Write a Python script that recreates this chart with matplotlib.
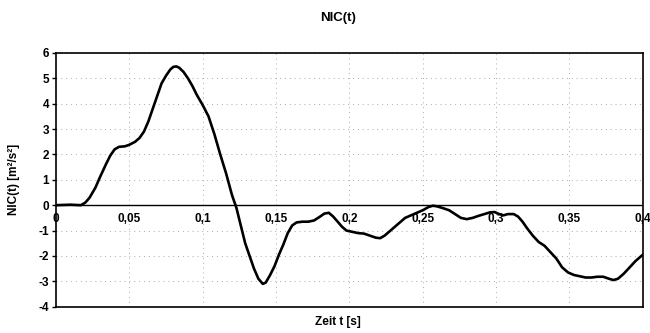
import matplotlib.pyplot as plt
import numpy as np

# NIC(t) curve
t_s = [0, 0.01, 0.017, 0.02, 0.023, 0.027, 0.030, 0.034, 0.037, 0.040, 0.043, 0.047,
       0.050, 0.054, 0.057, 0.060, 0.063, 0.066, 0.069, 0.072, 0.075, 0.078, 0.080,
       0.082, 0.084, 0.087, 0.090, 0.093, 0.096, 0.100, 0.104, 0.108, 0.112, 0.116,
       0.120, 0.123, 0.126, 0.129, 0.132, 0.135, 0.138, 0.141, 0.143, 0.146, 0.149,
       0.152, 0.155, 0.158, 0.161, 0.164, 0.168, 0.172, 0.176, 0.180, 0.183, 0.186,
       0.189, 0.192, 0.195, 0.198, 0.202, 0.206, 0.210, 0.214, 0.218, 0.221, 0.224,
       0.227, 0.230, 0.234, 0.238, 0.242, 0.246, 0.250, 0.254, 0.257, 0.260, 0.264,
       0.268, 0.272, 0.276, 0.280, 0.284, 0.288, 0.292, 0.296, 0.299, 0.302, 0.305,
       0.308, 0.312, 0.315, 0.318, 0.321, 0.325, 0.329, 0.333, 0.337, 0.341, 0.345,
       0.349, 0.353, 0.357, 0.361, 0.365, 0.369, 0.373, 0.377, 0.380, 0.383, 0.387,
       0.391, 0.395, 0.400]
nic = [0, 0.02, 0.0, 0.1, 0.3, 0.7, 1.1, 1.6, 1.95, 2.2, 2.3, 2.32,
       2.38, 2.5, 2.65, 2.9, 3.3, 3.8, 4.3, 4.8, 5.1, 5.35, 5.45,
       5.47, 5.42, 5.25, 5.0, 4.7, 4.35, 3.95, 3.5, 2.8, 2.0, 1.25,
       0.4, -0.1, -0.8, -1.5, -2.0, -2.5, -2.9, -3.1, -3.05, -2.75, -2.4,
       -1.95, -1.55, -1.1, -0.8, -0.68, -0.65, -0.65, -0.6, -0.45, -0.33, -0.3,
       -0.45, -0.65, -0.85, -1.0, -1.05, -1.1, -1.12, -1.2, -1.28, -1.3, -1.2,
       -1.05, -0.9, -0.7, -0.5, -0.4, -0.3, -0.2, -0.07, -0.02, -0.05, -0.12,
       -0.2, -0.35, -0.5, -0.55, -0.5, -0.42, -0.35, -0.28, -0.27, -0.35, -0.4,
       -0.35, -0.35, -0.45, -0.65, -0.9, -1.2, -1.45, -1.6, -1.85, -2.1, -2.45,
       -2.65, -2.75, -2.8, -2.85, -2.85, -2.82, -2.82, -2.9, -2.95, -2.9, -2.7,
       -2.45, -2.2, -1.95]

x_ticks = [0, 0.05, 0.1, 0.15, 0.2, 0.25, 0.3, 0.35, 0.4]
x_labels = ["0", "0,05", "0,1", "0,15", "0,2", "0,25", "0,3", "0,35", "0,4"]
y_ticks = [-4, -3, -2, -1, 0, 1, 2, 3, 4, 5, 6]

plt.rcParams["font.family"] = ["Liberation Sans", "DejaVu Sans"]
plt.rcParams["font.weight"] = "bold"

fig = plt.figure(figsize=(6.5, 3.33), dpi=100)
ax = fig.add_axes([0.086, 0.079, 0.903, 0.762])

ax.plot(t_s, nic, color="black", lw=1.9, zorder=3)
ax.axhline(0, color="black", lw=1.0, zorder=2)

ax.set_xlim(0, 0.4)
ax.set_ylim(-4, 6)
ax.set_yticks(y_ticks)
ax.set_yticklabels([str(v) for v in y_ticks], fontsize=8.5, fontweight="bold")
ax.set_xticks(x_ticks[1:-1])
ax.tick_params(axis="x", length=0, labelbottom=False)
ax.tick_params(axis="y", length=3, width=1, direction="out", pad=2)
ax.grid(True, color="#aaaaaa", linestyle=(0, (1, 4)), lw=0.7)

for sp in ax.spines.values():
    sp.set_color("black")
    sp.set_linewidth(1.2)

for xt, lab in zip(x_ticks, x_labels):
    ax.text(xt, -0.3, lab, ha="center", va="top", fontsize=8.5,
            fontweight="bold", clip_on=False)

fig.text(0.52, 0.946, "NIC(t)", ha="center", va="center", fontsize=9.5, fontweight="bold")
fig.text(0.52, 0.033, "Zeit t [s]", ha="center", va="center", fontsize=8.5, fontweight="bold")
fig.text(0.022, 0.46, "NIC(t) [m²/s²]", ha="center", va="center", rotation=90,
         fontsize=8.5, fontweight="bold")

fig.savefig("out.png", dpi=100)
